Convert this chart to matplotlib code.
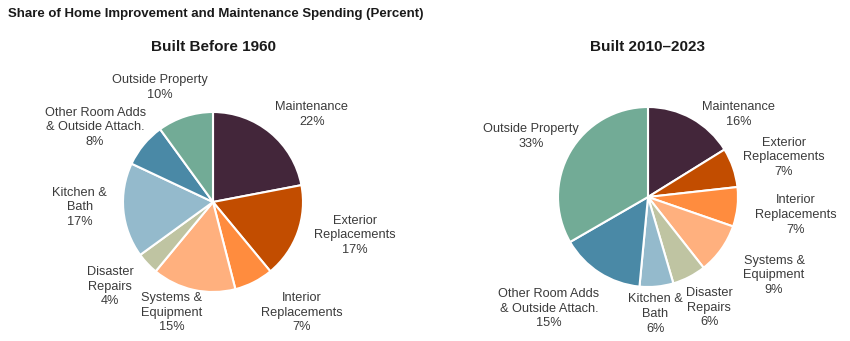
import matplotlib
matplotlib.use("Agg")
import matplotlib.pyplot as plt

plt.rcParams['font.family'] = ['Liberation Sans', 'DejaVu Sans']

categories = ["Maintenance", "Exterior\nReplacements", "Interior\nReplacements",
              "Systems &\nEquipment", "Disaster\nRepairs", "Kitchen &\nBath",
              "Other Room Adds\n& Outside Attach.", "Outside Property"]
before_1960 = [22, 17, 7, 15, 4, 17, 8, 10]
built_2010_2023 = [16, 7, 7, 9, 6, 6, 15, 33]
colors = ["#43263A", "#C24D00", "#FF8C3E", "#FFB07E", "#BFC4A2", "#94BACC", "#4A89A6", "#72AB96"]

# label positions (in pie-radius units) – layout only
pos1 = [(1.10, 0.97), (1.58, -0.37), (0.99, -1.23), (-0.46, -1.23),
        (-1.14, -0.94), (-1.48, -0.06), (-1.31, 0.83), (-0.59, 1.27)]
pos2 = [(1.01, 0.92), (1.51, 0.44), (1.64, -0.20), (1.40, -0.87),
        (0.68, -1.23), (0.08, -1.30), (-1.10, -1.24), (-1.30, 0.67)]

W, H = 850, 341
fig = plt.figure(figsize=(W / 100, H / 100), dpi=100)
txtc = "#3b3b3b"

def draw(cx, cy, vals, pos, title):
    s = 90.0
    ax = fig.add_axes([(cx - 2 * s) / W, (cy - 1.5 * s) / H, 4 * s / W, 3 * s / H])
    ax.pie(vals, colors=colors, startangle=90, counterclock=False,
           wedgeprops=dict(edgecolor="white", linewidth=1.5))
    for lab, v, (x, y) in zip(categories, vals, pos):
        ax.text(x, y, f"{lab}\n{v}%", ha="center", va="center", fontsize=9.2,
                color=txtc, linespacing=1.3)
    ax.set_xlim(-2, 2)
    ax.set_ylim(-1.5, 1.5)
    ax.set_aspect("auto")
    ax.axis("off")
    fig.text(cx / W, 1 - 47 / H, title, ha="center", va="center",
             fontsize=11, fontweight="bold", color="#1a1a1a")

draw(213, H - 202, before_1960, pos1, "Built Before 1960")
draw(648, H - 197, built_2010_2023, pos2, "Built 2010\u20132023")

fig.text(8 / W, 1 - 14 / H, "Share of Home Improvement and Maintenance Spending (Percent)",
         ha="left", va="center", fontsize=9.5, fontweight="bold", color="#1a1a1a")

fig.savefig("out.png", dpi=100)
